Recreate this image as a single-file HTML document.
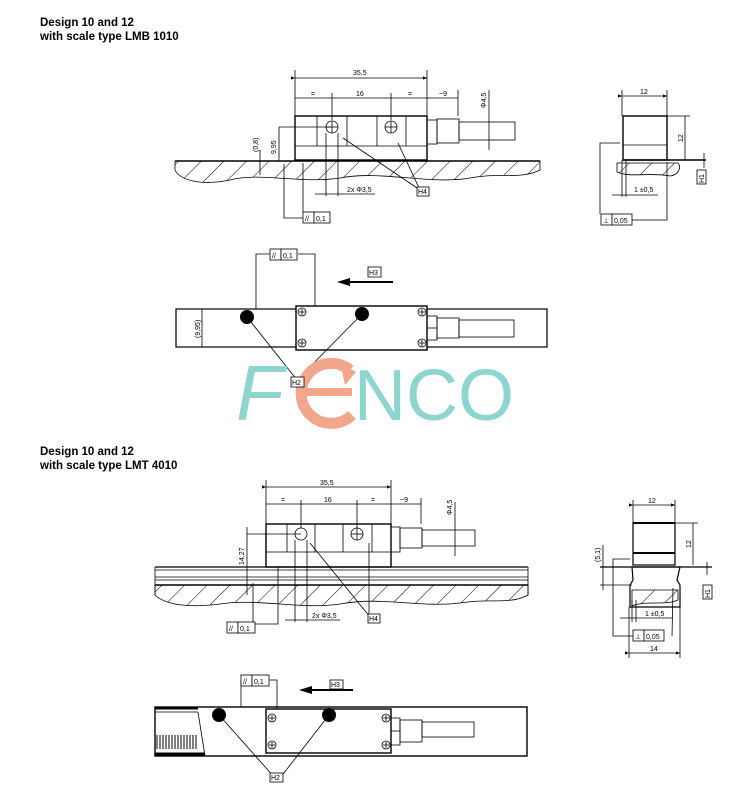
<!DOCTYPE html>
<html><head><meta charset="utf-8"><style>
html,body{margin:0;padding:0;background:#fff}
svg{display:block}
text{font-family:"Liberation Sans",sans-serif;fill:#000}
.t{font-size:7px}
.h{font-size:11.5px;font-weight:bold}
</style></head><body>
<svg width="742" height="787" viewBox="0 0 742 787" xmlns="http://www.w3.org/2000/svg">
<defs>
<pattern id="hat" patternUnits="userSpaceOnUse" width="16" height="16" patternTransform="rotate(45)">
<line x1="0" y1="0" x2="0" y2="16" stroke="#000" stroke-width="1"/></pattern>
<marker id="ar" markerWidth="6" markerHeight="6" refX="5" refY="3" orient="auto"><path d="M0,1 L5,3 L0,5z" fill="#000"/></marker>
</defs>
<g stroke="#000" fill="none" stroke-width="0.8">
<!-- ===== Section 1 front ===== -->
<line x1="295" y1="78" x2="427" y2="78" marker-start="url(#ar)" marker-end="url(#ar)"/>
<line x1="295" y1="98" x2="458" y2="98"/>
<line x1="295" y1="70" x2="295" y2="116"/><line x1="427" y1="70" x2="427" y2="116"/><line x1="458" y1="90" x2="458" y2="116"/>
<line x1="332" y1="93" x2="332" y2="120"/><line x1="391" y1="93" x2="391" y2="120"/>
<rect x="295" y="116" width="132" height="44" stroke-width="1.4"/>
<line x1="295" y1="146" x2="427" y2="146"/>
<line x1="317" y1="116" x2="317" y2="146"/><line x1="347" y1="116" x2="347" y2="146"/><line x1="377" y1="116" x2="377" y2="146"/><line x1="406" y1="116" x2="406" y2="146"/>
<circle cx="332" cy="127" r="6"/><circle cx="391" cy="127" r="6"/>
<line x1="326" y1="127" x2="338" y2="127"/><line x1="332" y1="121" x2="332" y2="133"/>
<line x1="385" y1="127" x2="397" y2="127"/><line x1="391" y1="121" x2="391" y2="133"/>
<rect x="427" y="120" width="10" height="24"/><rect x="437" y="119" width="22" height="24"/><rect x="459" y="122" width="56" height="18"/>
<line x1="489" y1="90" x2="489" y2="150"/>
<path d="M175,161 L540,161 L540,170 C520,180 500,172 470,178 C430,185 380,170 340,178 C300,184 260,172 230,180 C200,186 180,180 175,170 Z" fill="url(#hat)"/>
<line x1="175" y1="161" x2="540" y2="161" stroke-width="1.4"/>
<line x1="279" y1="127" x2="332" y2="127"/><line x1="279" y1="127" x2="279" y2="161"/>
<line x1="260" y1="150" x2="260" y2="175"/>
<line x1="326" y1="133" x2="326" y2="196"/><line x1="338" y1="133" x2="338" y2="196"/>
<line x1="315" y1="194" x2="375" y2="194"/>
<line x1="343" y1="138" x2="420" y2="190"/><line x1="398" y1="143" x2="420" y2="190"/>
<polyline points="284,164 284,218 303,218"/><line x1="303" y1="163" x2="303" y2="212"/>
<!-- side view 1 -->
<line x1="622" y1="96" x2="667" y2="96" marker-start="url(#ar)" marker-end="url(#ar)"/>
<line x1="622" y1="90" x2="622" y2="116"/><line x1="667" y1="90" x2="667" y2="116"/>
<rect x="623" y="116" width="44" height="44" stroke-width="1.4"/>
<line x1="623" y1="145" x2="667" y2="145"/>
<line x1="623" y1="160" x2="706" y2="160" stroke-width="1.4"/>
<line x1="667" y1="116" x2="690" y2="116"/><line x1="685" y1="116" x2="685" y2="160"/>
<line x1="704" y1="153" x2="704" y2="168"/>
<path d="M617,163 L678,163 C682,168 678,175 670,176 C650,172 630,178 617,172 Z" fill="url(#hat)"/>
<line x1="622" y1="160" x2="622" y2="197"/><line x1="626" y1="160" x2="626" y2="197"/>
<line x1="612" y1="195" x2="658" y2="195"/>
<polyline points="620,143 600,143 600,214"/><polyline points="667,162 667,220 632,220"/>
<!-- ===== Section 1 top view ===== -->
<rect x="176" y="309" width="371" height="38" stroke-width="1.2"/>
<rect x="296" y="306" width="131" height="44" fill="#fff" stroke-width="1.4"/>
<rect x="427" y="316" width="10" height="24"/><line x1="427" y1="328" x2="437" y2="328"/>
<rect x="437" y="318" width="22" height="20"/><rect x="459" y="320" width="55" height="17"/>
<line x1="202" y1="309" x2="202" y2="347"/>
<polyline points="256,309 256,254 270,254"/><polyline points="315,306 315,254 298,254"/>
<line x1="393" y1="282" x2="345" y2="282" stroke-width="2"/>
<line x1="247" y1="317" x2="297" y2="380"/><line x1="362" y1="314" x2="297" y2="380"/>
<!-- ===== Section 2 front ===== -->
<line x1="266" y1="487" x2="391" y2="487" marker-start="url(#ar)" marker-end="url(#ar)"/>
<line x1="266" y1="504" x2="421" y2="504"/>
<line x1="266" y1="480" x2="266" y2="524"/><line x1="391" y1="480" x2="391" y2="524"/><line x1="421" y1="498" x2="421" y2="524"/>
<line x1="301" y1="500" x2="301" y2="528"/><line x1="357" y1="500" x2="357" y2="528"/>
<rect x="266" y="524" width="125" height="43" stroke-width="1.4"/>
<line x1="266" y1="552" x2="391" y2="552"/>
<line x1="287" y1="524" x2="287" y2="552"/><line x1="315" y1="524" x2="315" y2="552"/><line x1="343" y1="524" x2="343" y2="552"/><line x1="372" y1="524" x2="372" y2="552"/>
<circle cx="301" cy="534" r="6"/><circle cx="357" cy="534" r="6"/>
<line x1="351" y1="534" x2="363" y2="534"/><line x1="357" y1="528" x2="357" y2="540"/>
<rect x="391" y="527" width="9" height="25"/><rect x="400" y="528" width="22" height="20"/><rect x="422" y="530" width="53" height="16"/>
<line x1="455" y1="502" x2="455" y2="556"/>
<path d="M155,585 L528,585 L528,595 C510,605 490,598 460,603 C420,608 380,596 340,604 C300,610 260,598 220,604 C190,608 165,605 155,595 Z" fill="url(#hat)"/>
<line x1="155" y1="567" x2="528" y2="567" stroke-width="1.2"/>
<line x1="155" y1="570" x2="528" y2="570"/>
<line x1="155" y1="577" x2="528" y2="577"/>
<line x1="155" y1="580" x2="528" y2="580"/>
<line x1="155" y1="585" x2="528" y2="585" stroke-width="1.4"/>
<line x1="155" y1="567" x2="155" y2="595"/><line x1="528" y1="567" x2="528" y2="595"/>
<line x1="247" y1="534" x2="301" y2="534"/><line x1="247" y1="527" x2="247" y2="595"/>
<polyline points="253,583 253,628 255,628"/><polyline points="278,567 278,624 255,624"/>
<line x1="295" y1="540" x2="295" y2="622"/><line x1="307" y1="540" x2="307" y2="622"/>
<line x1="285" y1="620" x2="340" y2="620"/>
<line x1="310" y1="543" x2="370" y2="617"/><line x1="369" y1="543" x2="369" y2="615"/>
<!-- side view 2 -->
<line x1="633" y1="505" x2="675" y2="505" marker-start="url(#ar)" marker-end="url(#ar)"/>
<line x1="633" y1="500" x2="633" y2="523"/><line x1="675" y1="500" x2="675" y2="523"/>
<rect x="633" y="523" width="42" height="42" stroke-width="1.2"/>
<line x1="633" y1="523" x2="675" y2="523" stroke-width="2"/><line x1="633" y1="553" x2="675" y2="553" stroke-width="2"/>
<line x1="675" y1="523" x2="698" y2="523"/><line x1="693" y1="523" x2="693" y2="565"/>
<line x1="600" y1="567" x2="712" y2="567" stroke-width="1.2"/>
<line x1="600" y1="585" x2="632" y2="585"/>
<line x1="603" y1="545" x2="603" y2="590"/>
<path d="M632,567 L680,567 L677,580 L680,585 L680,607 L630,607 L630,585 L633,580 Z" stroke-width="1.2"/>
<path d="M632,590 L678,590 L678,600 C665,606 645,600 632,606 Z" fill="url(#hat)"/>
<line x1="707" y1="562" x2="707" y2="575"/>
<line x1="632" y1="600" x2="632" y2="622"/><line x1="636" y1="600" x2="636" y2="622"/>
<line x1="620" y1="618" x2="672" y2="618"/>
<polyline points="630,559 613,559 613,636 633,636"/><polyline points="672,636 673,588"/>
<line x1="629" y1="653" x2="680" y2="653" marker-start="url(#ar)" marker-end="url(#ar)"/>
<line x1="629" y1="607" x2="629" y2="658"/><line x1="680" y1="607" x2="680" y2="658"/>
<!-- ===== Section 2 top view ===== -->
<rect x="155" y="707" width="372" height="49" stroke-width="1.4"/>
<line x1="155" y1="708" x2="198" y2="708" stroke-width="3"/>
<path d="M155,712 L198,712 L205,756" />
<line x1="155" y1="754" x2="205" y2="754" stroke-width="3"/>
<rect x="266" y="709" width="125" height="44" stroke-width="1.4"/>
<rect x="391" y="718" width="9" height="27"/><line x1="391" y1="731" x2="400" y2="731"/>
<rect x="400" y="720" width="22" height="22"/><rect x="422" y="722" width="52" height="15"/>
<polyline points="241,707 241,680 241,680"/><polyline points="277,709 277,680 269,680"/>
<line x1="353" y1="690" x2="305" y2="690" stroke-width="2"/>
<line x1="219" y1="715" x2="275" y2="778"/><line x1="329" y1="715" x2="280" y2="778"/>
</g>
<!-- teeth -->
<g stroke="#000" stroke-width="1">
<path d="M157,735v14M160,735v14M163,735v14M166,735v14M169,735v14M172,735v14M175,735v14M178,735v14M181,735v14M184,735v14M187,735v14M190,735v14M193,735v14M196,735v14"/>
</g>
<!-- arrowheads for H3 -->
<path d="M337,282 L350,278 L350,286 Z" fill="#000"/>
<path d="M299,690 L312,686 L312,694 Z" fill="#000"/>
<!-- dots -->
<circle cx="247" cy="317" r="7" fill="#000"/><circle cx="362" cy="314" r="7" fill="#000"/>
<circle cx="219" cy="715" r="7" fill="#000"/><circle cx="329" cy="715" r="7" fill="#000"/>
<!-- screws -->
<g fill="#fff" stroke="#000" stroke-width="0.8">
<circle cx="302" cy="312" r="4"/><circle cx="302" cy="343" r="4"/><circle cx="422" cy="312" r="4"/><circle cx="422" cy="343" r="4"/>
<circle cx="272" cy="718" r="4"/><circle cx="272" cy="745" r="4"/><circle cx="386" cy="718" r="4"/><circle cx="386" cy="745" r="4"/>
</g>
<g stroke="#000" stroke-width="0.8">
<path d="M299,312h6M302,309v6M299,343h6M302,340v6M419,312h6M422,309v6M419,343h6M422,340v6"/>
<path d="M269,718h6M272,715v6M269,745h6M272,742v6M383,718h6M386,715v6M383,745h6M386,742v6"/>
</g>
<!-- FENCO logo -->
<text x="236" y="420" style="font-size:78px;font-style:italic;fill:#8dd6cf;font-family:'Liberation Sans',sans-serif">F</text>
<text x="354" y="420" style="font-size:72px;fill:#8dd6cf;font-family:'Liberation Sans',sans-serif">NCO</text>
<path d="M350,370 A30,30 0 1,0 352,415" fill="none" stroke="#f2a68c" stroke-width="11"/>
<path d="M303,392 L352,392" stroke="#f2a68c" stroke-width="8"/>
<path d="M340,362 L356,372 L345,385 Z" fill="#f2a68c"/>
<!-- boxes -->
<g stroke="#000" stroke-width="0.8" fill="#fff">
<rect x="417" y="187" width="12" height="9"/>
<rect x="303" y="212" width="11" height="11"/><rect x="314" y="212" width="16" height="11"/>
<rect x="601" y="214" width="11" height="11"/><rect x="612" y="214" width="20" height="11"/>
<rect x="697" y="170" width="9" height="14"/>
<rect x="270" y="249" width="11" height="11"/><rect x="281" y="249" width="16" height="11"/>
<rect x="368" y="267" width="13" height="10"/>
<rect x="291" y="377" width="13" height="10"/>
<rect x="227" y="622" width="11" height="11"/><rect x="238" y="622" width="17" height="11"/>
<rect x="368" y="614" width="12" height="9"/>
<rect x="633" y="630" width="11" height="11"/><rect x="644" y="630" width="20" height="11"/>
<rect x="703" y="585" width="9" height="14"/>
<rect x="241" y="675" width="11" height="11"/><rect x="252" y="675" width="17" height="11"/>
<rect x="330" y="680" width="13" height="9"/>
<rect x="270" y="773" width="13" height="9"/>
</g>
<!-- text -->
<text class="h" x="40" y="26">Design 10 and 12</text>
<text class="h" x="40" y="40">with scale type LMB 1010</text>
<text class="h" x="40" y="455">Design 10 and 12</text>
<text class="h" x="40" y="469">with scale type LMT 4010</text>
<g class="t">
<text x="353" y="75">35,5</text><text x="311" y="96">=</text><text x="356" y="96">16</text><text x="408" y="96">=</text><text x="439" y="96">~9</text>
<text transform="translate(486,108) rotate(-90)">Φ4,5</text>
<text transform="translate(276,154) rotate(-90)">9,95</text>
<text transform="translate(258,152) rotate(-90)">(0,8)</text>
<text x="347" y="192">2x Φ3,5</text>
<text x="418" y="194">H4</text>
<text x="305" y="221">//</text><text x="316" y="221">0,1</text>
<text x="640" y="94">12</text>
<text transform="translate(683,142) rotate(-90)">12</text>
<text x="634" y="192">1 ±0,5</text>
<text x="603" y="223">⊥</text><text x="614" y="223">0,05</text>
<text transform="translate(704,183) rotate(-90)">H1</text>
<text x="272" y="258">//</text><text x="283" y="258">0,1</text>
<text x="369" y="275">H3</text>
<text x="292" y="385">H2</text>
<text transform="translate(200,338) rotate(-90)">(9,95)</text>
<text x="320" y="485">35,5</text><text x="281" y="502">=</text><text x="324" y="502">16</text><text x="371" y="502">=</text><text x="400" y="502">~9</text>
<text transform="translate(452,515) rotate(-90)">Φ4,5</text>
<text transform="translate(244,565) rotate(-90)">14,27</text>
<text x="312" y="618">2x Φ3,5</text>
<text x="369" y="621">H4</text>
<text x="229" y="631">//</text><text x="240" y="631">0,1</text>
<text x="648" y="503">12</text>
<text transform="translate(691,548) rotate(-90)">12</text>
<text transform="translate(600,562) rotate(-90)">(5,1)</text>
<text transform="translate(710,598) rotate(-90)">H1</text>
<text x="645" y="616">1 ±0,5</text>
<text x="635" y="639">⊥</text><text x="646" y="639">0,05</text>
<text x="650" y="651">14</text>
<text x="243" y="684">//</text><text x="254" y="684">0,1</text>
<text x="331" y="687">H3</text>
<text x="271" y="780">H2</text>
</g>
</svg>
</body></html>
